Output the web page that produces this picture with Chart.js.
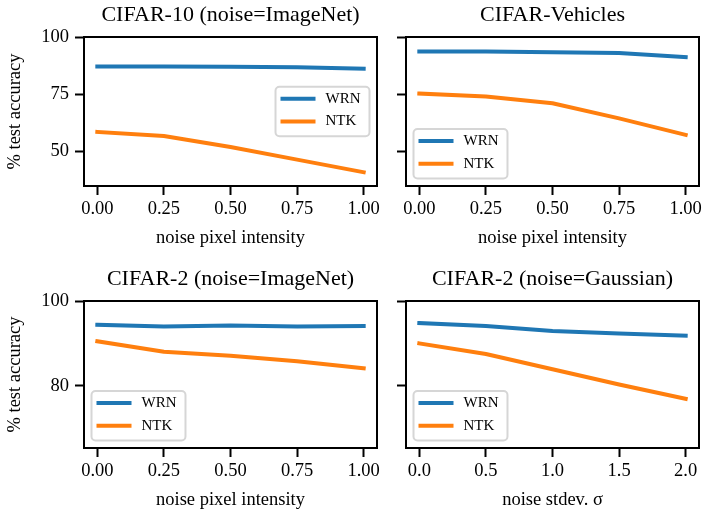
<!DOCTYPE html>
<html>
<head>
<meta charset="utf-8">
<script src="https://cdn.jsdelivr.net/npm/chart.js@4.4.0/dist/chart.umd.min.js"></script>
<style>
    body { margin: 0; background: #fff; }
    #wrap { position: relative; width: 702px; height: 514px; }
    #wrap canvas { position: absolute; left: 0; top: 0; }
</style>
</head>
<body>
<div id="wrap">
    <canvas id="c10" width="702" height="514"></canvas>
    <canvas id="veh" width="702" height="514"></canvas>
    <canvas id="c2img" width="702" height="514"></canvas>
    <canvas id="c2gauss" width="702" height="514"></canvas>
</div>
<script>
// x values
const noiseIntensity = [0, 0.25, 0.5, 0.75, 1.0];
const noiseStdev = [0, 0.5, 1.0, 1.5, 2.0];

// series values (% test accuracy)
const cifar10WRN = [87.1, 87.1, 87.0, 86.8, 86.2];
const cifar10NTK = [58.6, 56.8, 52.0, 46.5, 41.0];
const vehiclesWRN = [93.7, 93.7, 93.4, 93.0, 91.2];
const vehiclesNTK = [75.3, 74.0, 71.1, 64.5, 57.3];
const cifar2ImgWRN = [94.4, 94.0, 94.2, 94.0, 94.1];
const cifar2ImgNTK = [90.5, 88.0, 87.1, 85.8, 84.1];
const cifar2GaussWRN = [94.8, 94.1, 92.9, 92.3, 91.8];
const cifar2GaussNTK = [90.0, 87.5, 83.9, 80.3, 76.9];

// tick labels
const intensityTicks = [0, 0.25, 0.5, 0.75, 1.0];
const stdevTicks = [0, 0.5, 1.0, 1.5, 2.0];
const topRowYTicks = [50, 75, 100];
const bottomRowYTicks = [80, 100];

const BLUE = '#1f77b4';
const ORANGE = '#ff7f0e';
const W = 702, H = 514;

Chart.defaults.font.family = "'Liberation Serif', 'Times New Roman', serif";
Chart.defaults.color = '#000';

// box around the plot area, drawn over the lines like matplotlib spines
const framePlugin = {
    id: 'frame',
    afterDatasetsDraw(chart) {
        const { left, top, right, bottom } = chart.chartArea;
        const ctx = chart.ctx;
        ctx.save();
        ctx.strokeStyle = '#000';
        ctx.lineWidth = 2;
        ctx.strokeRect(left, top, right - left, bottom - top);
        ctx.restore();
    }
};

// matplotlib-like legend placed inside the axes
const boxLegendPlugin = {
    id: 'boxLegend',
    afterDraw(chart, args, opts) {
        const ctx = chart.ctx;
        const area = chart.chartArea;
        const sets = chart.data.datasets;
        ctx.save();
        ctx.font = '15px ' + Chart.defaults.font.family;
        let textW = 0;
        sets.forEach(ds => { textW = Math.max(textW, ctx.measureText(ds.label).width); });
        const bw = 5 + 35 + 10 + textW + 9;
        const bh = 49.5;
        const pad = 7.5;
        let x0, y0;
        if (opts.loc === 'center right') {
            x0 = area.right - pad - bw;
            y0 = (area.top + area.bottom) / 2 - bh / 2;
        } else {
            x0 = area.left + pad;
            y0 = area.bottom - pad - bh;
        }
        ctx.beginPath();
        ctx.roundRect(x0, y0, bw, bh, 4);
        ctx.fillStyle = 'rgba(255,255,255,0.8)';
        ctx.fill();
        ctx.strokeStyle = '#d6d6d6';
        ctx.lineWidth = 2;
        ctx.stroke();
        sets.forEach((ds, i) => {
            const y = y0 + 12 + i * 22.7;
            ctx.beginPath();
            ctx.moveTo(x0 + 5, y);
            ctx.lineTo(x0 + 40, y);
            ctx.strokeStyle = ds.borderColor;
            ctx.lineWidth = 4;
            ctx.stroke();
            ctx.fillStyle = '#000';
            ctx.textBaseline = 'middle';
            ctx.textAlign = 'left';
            ctx.fillText(ds.label, x0 + 50, y);
        });
        ctx.restore();
    }
};

function toPoints(xs, ys) {
    return xs.map((x, i) => ({ x: x, y: ys[i] }));
}

function makePanel(id, p) {
    const a = p.area;
    const yWidth = p.yTitle ? a.left - 4.4 : 9;
    const titlePadTop = p.titleMid - p.rowTop - 13.2;
    const titlePadBottom = a.top - p.rowTop - titlePadTop - 26.4;

    new Chart(document.getElementById(id), {
        type: 'line',
        data: {
            datasets: [
                {
                    label: 'WRN',
                    data: toPoints(p.xs, p.wrn),
                    borderColor: BLUE,
                    backgroundColor: BLUE,
                    borderWidth: 4,
                    pointRadius: 0,
                    tension: 0,
                    borderCapStyle: 'square',
                    borderJoinStyle: 'round'
                },
                {
                    label: 'NTK',
                    data: toPoints(p.xs, p.ntk),
                    borderColor: ORANGE,
                    backgroundColor: ORANGE,
                    borderWidth: 4,
                    pointRadius: 0,
                    tension: 0,
                    borderCapStyle: 'square',
                    borderJoinStyle: 'round'
                }
            ]
        },
        options: {
            responsive: false,
            animation: false,
            devicePixelRatio: 1,
            layout: {
                padding: {
                    left: a.left - yWidth,
                    right: W - a.right,
                    top: p.rowTop,
                    bottom: H - a.bottom - p.xHeight
                }
            },
            plugins: {
                legend: { display: false },
                tooltip: { enabled: false },
                title: {
                    display: true,
                    text: p.title,
                    fullSize: false,
                    color: '#000',
                    font: { size: 22, weight: 'normal' },
                    padding: { top: titlePadTop, bottom: titlePadBottom }
                },
                boxLegend: { loc: p.legendLoc }
            },
            scales: {
                x: {
                    type: 'linear',
                    min: p.xMin,
                    max: p.xMax,
                    afterBuildTicks: s => { s.ticks = p.xTicks.map(v => ({ value: v })); },
                    afterFit: s => { s.height = p.xHeight; s.paddingLeft = 0; s.paddingRight = 0; },
                    ticks: {
                        callback: v => v.toFixed(p.xDecimals),
                        padding: 3,
                        maxRotation: 0,
                        autoSkip: false,
                        color: '#000',
                        font: { size: 18.5 }
                    },
                    grid: { drawOnChartArea: false, tickLength: 9, tickWidth: 2, tickColor: '#000' },
                    border: { display: false },
                    title: { display: true, text: p.xTitle, color: '#000', font: { size: 18.5 }, padding: 0 }
                },
                y: {
                    min: p.yMin,
                    max: 100,
                    afterBuildTicks: s => { s.ticks = p.yTicks.map(v => ({ value: v })); },
                    afterFit: s => { s.width = yWidth; s.paddingTop = 0; s.paddingBottom = 0; },
                    ticks: {
                        display: !!p.yTitle,
                        padding: 6,
                        color: '#000',
                        font: { size: 18.5 }
                    },
                    grid: { drawOnChartArea: false, tickLength: 9, tickWidth: 2, tickColor: '#000' },
                    border: { display: false },
                    title: { display: !!p.yTitle, text: '% test accuracy', color: '#000', font: { size: 18.5 }, padding: 0 }
                }
            }
        },
        plugins: [framePlugin, boxLegendPlugin]
    });
}

// CIFAR-10 (top left)
makePanel('c10', {
    title: 'CIFAR-10 (noise=ImageNet)',
    area: { left: 84, top: 37, right: 377, bottom: 186 },
    rowTop: 0, titleMid: 15.3, xHeight: 63,
    xs: noiseIntensity, wrn: cifar10WRN, ntk: cifar10NTK,
    xMin: -0.05, xMax: 1.05, xTicks: intensityTicks, xDecimals: 2,
    xTitle: 'noise pixel intensity',
    yMin: 35, yTicks: topRowYTicks, yTitle: true,
    legendLoc: 'center right'
});

// CIFAR-Vehicles (top right)
makePanel('veh', {
    title: 'CIFAR-Vehicles',
    area: { left: 406, top: 37, right: 699, bottom: 186 },
    rowTop: 0, titleMid: 15.3, xHeight: 63,
    xs: noiseIntensity, wrn: vehiclesWRN, ntk: vehiclesNTK,
    xMin: -0.05, xMax: 1.05, xTicks: intensityTicks, xDecimals: 2,
    xTitle: 'noise pixel intensity',
    yMin: 35, yTicks: topRowYTicks, yTitle: false,
    legendLoc: 'lower left'
});

// CIFAR-2 ImageNet noise (bottom left)
makePanel('c2img', {
    title: 'CIFAR-2 (noise=ImageNet)',
    area: { left: 84, top: 301, right: 377, bottom: 448 },
    rowTop: 257, titleMid: 279.3, xHeight: 63,
    xs: noiseIntensity, wrn: cifar2ImgWRN, ntk: cifar2ImgNTK,
    xMin: -0.05, xMax: 1.05, xTicks: intensityTicks, xDecimals: 2,
    xTitle: 'noise pixel intensity',
    yMin: 65.3, yTicks: bottomRowYTicks, yTitle: true,
    legendLoc: 'lower left'
});

// CIFAR-2 Gaussian noise (bottom right)
makePanel('c2gauss', {
    title: 'CIFAR-2 (noise=Gaussian)',
    area: { left: 406, top: 301, right: 699, bottom: 448 },
    rowTop: 257, titleMid: 279.3, xHeight: 63,
    xs: noiseStdev, wrn: cifar2GaussWRN, ntk: cifar2GaussNTK,
    xMin: -0.1, xMax: 2.1, xTicks: stdevTicks, xDecimals: 1,
    xTitle: 'noise stdev. σ',
    yMin: 65.3, yTicks: bottomRowYTicks, yTitle: false,
    legendLoc: 'lower left'
});
</script>
</body>
</html>
